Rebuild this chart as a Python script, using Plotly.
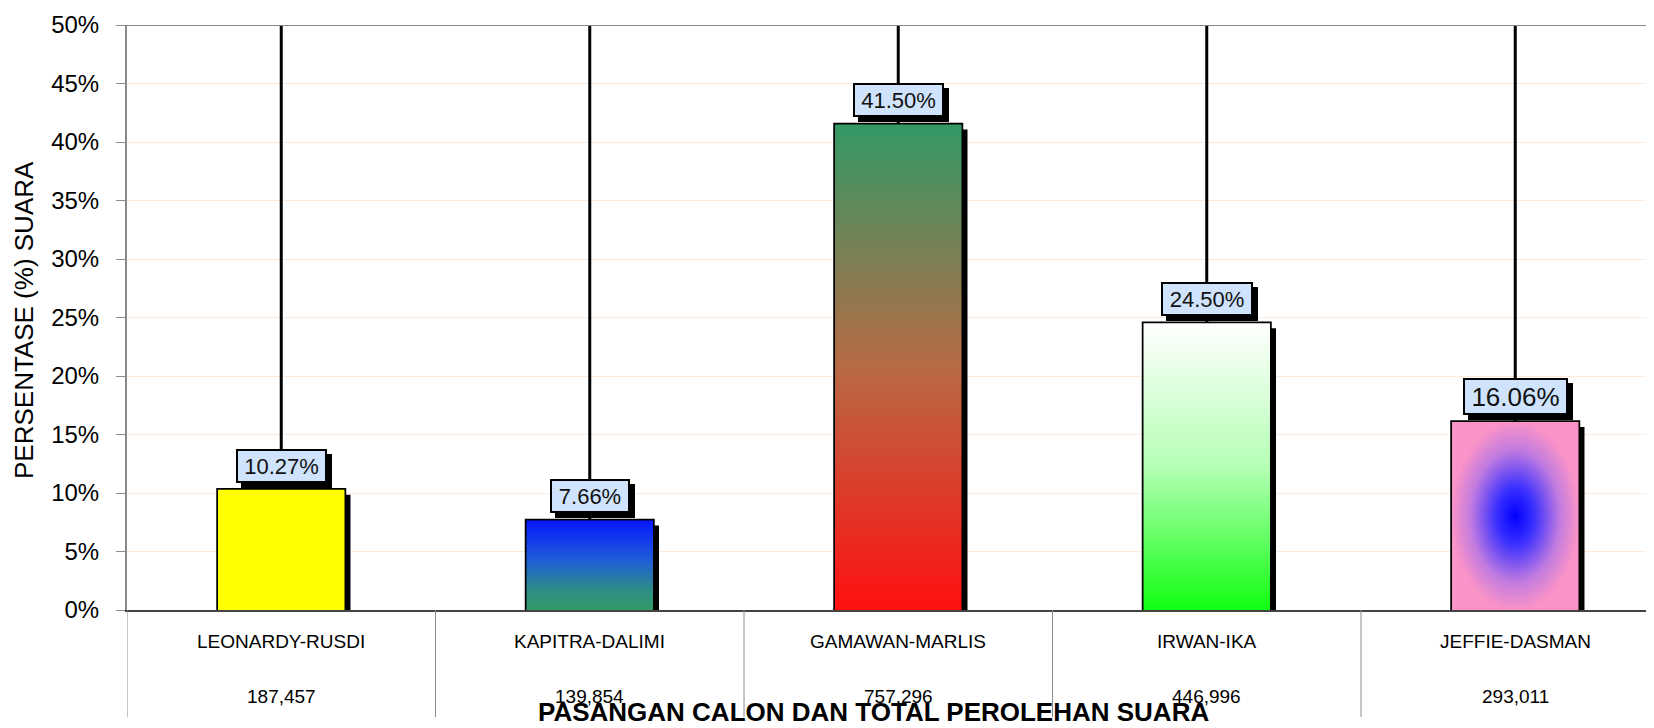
import plotly.graph_objects as go

# ---------------- data ----------------
candidates = ["LEONARDY-RUSDI", "KAPITRA-DALIMI", "GAMAWAN-MARLIS", "IRWAN-IKA", "JEFFIE-DASMAN"]
percent = [10.27, 7.66, 41.50, 24.50, 16.06]
votes = [187457, 139854, 757296, 446996, 293011]
y_ticks = [0, 5, 10, 15, 20, 25, 30, 35, 40, 45, 50]
y_tick_text = ["0%", "5%", "10%", "15%", "20%", "25%", "30%", "35%", "40%", "45%", "50%"]
y_title = "PERSENTASE (%) SUARA"
x_title = "PASANGAN CALON DAN TOTAL PEROLEHAN SUARA"

# ---------------- styles ----------------
PAGE_OFF = 8                     # default body margin of the html page
W_FIG, H_FIG = 1654 - PAGE_OFF, 728 - PAGE_OFF
M_L, M_R, M_T, M_B = 127 - PAGE_OFF, 0, 25 - PAGE_OFF, 118
PLOT_W = W_FIG - M_L - M_R
PLOT_H = H_FIG - M_T - M_B
BASE_Y = M_T + PLOT_H            # baseline in figure pixels
CAT_PX = 308.5
X_MIN = -0.5
X_MAX = X_MIN + PLOT_W / CAT_PX
Y_MAX = 50
BAR_W = 0.41
px_x = 1.0 / CAT_PX            # data units per pixel (x)
px_y = Y_MAX / PLOT_H          # data units per pixel (y)
FONT = "Arial, Liberation Sans, sans-serif"


def fig_y(screen_y):
    """paper y coordinate for a screen pixel row"""
    return (BASE_Y - (screen_y - PAGE_OFF)) / PLOT_H


def fig_x(screen_x):
    return (screen_x - PAGE_OFF - M_L) / PLOT_W


fills = [
    dict(color="#ffff00", grad=None),
    dict(color="#2a70c0", grad=dict(type="vertical",
         colorscale=[[0, "#339966"], [0.2, "#2f8f82"], [0.55, "#1f5fd6"], [1, "#0818ff"]])),
    dict(color="#a08050", grad=dict(type="vertical",
         colorscale=[[0, "#ff1010"], [0.5, "#b86a45"], [1, "#339966"]])),
    dict(color="#a0ffa0", grad=dict(type="vertical",
         colorscale=[[0, "#11ff11"], [0.5, "#b5ffb5"], [1, "#ffffff"]])),
    dict(color="#b070e0", grad=dict(type="radial",
         colorscale=[[0, "#0000ff"], [0.3, "#3a30ff"], [0.7, "#c07ae0"], [1, "#f993c8"]])),
]
label_font = [22, 22, 22, 22, 26]
label_w = [83, 72, 83, 84, 97]
label_h = [26, 26, 26, 26, 29]

idx = list(range(len(candidates)))

fig = go.Figure()

# leader lines from the top of the plot down to each label
lx, ly = [], []
for i, v in zip(idx, percent):
    lx += [i, i, None]
    ly += [v, Y_MAX, None]
fig.add_trace(go.Scatter(x=lx, y=ly, mode="lines", line=dict(color="black", width=3),
                         hoverinfo="skip", showlegend=False))

# bar shadows
fig.add_trace(go.Bar(x=idx, y=[v - 5 * px_y for v in percent], width=BAR_W,
                     offset=-BAR_W / 2 + 6 * px_x, marker=dict(color="black", line=dict(width=0)),
                     hoverinfo="skip", showlegend=False))

# gradient fills of the bars
for i, v, f in zip(idx, percent, fills):
    xs = [i - BAR_W / 2, i + BAR_W / 2, i + BAR_W / 2, i - BAR_W / 2, i - BAR_W / 2]
    ys = [0, 0, v, v, 0]
    kw = dict(x=xs, y=ys, mode="lines", fill="toself", fillcolor=f["color"],
              line=dict(width=0), hoverinfo="skip", showlegend=False)
    if f["grad"] is not None:
        kw["fillgradient"] = f["grad"]
    fig.add_trace(go.Scatter(**kw))

# bar outlines
fig.add_trace(go.Bar(x=idx, y=percent, width=BAR_W,
                     marker=dict(color="rgba(0,0,0,0)", line=dict(color="black", width=3.5)),
                     hoverinfo="skip", showlegend=False))

annotations = []
# value labels with shadows
for i, v, fs, w, h in zip(idx, percent, label_font, label_w, label_h):
    annotations.append(dict(x=i, y=v, xref="x", yref="y", text="", showarrow=False,
                            yanchor="bottom", xanchor="center", yshift=2, xshift=5,
                            width=w, height=h, bgcolor="black", bordercolor="black",
                            borderwidth=2, borderpad=2))
    annotations.append(dict(x=i, y=v, xref="x", yref="y", text=f"{v:.2f}%", showarrow=False,
                            yanchor="bottom", xanchor="center", yshift=7,
                            width=w, height=h, bgcolor="#cfe4fc", bordercolor="black",
                            borderwidth=2, borderpad=2,
                            font=dict(family=FONT, size=fs, color="#111111")))

# table below the axis
for i, name, n in zip(idx, candidates, votes):
    annotations.append(dict(x=i, y=fig_y(641), xref="x", yref="paper",
                            text=name, showarrow=False, yanchor="middle",
                            font=dict(family=FONT, size=19, color="black")))
    annotations.append(dict(x=i, y=fig_y(696), xref="x", yref="paper",
                            text=f"{n:,}", showarrow=False, yanchor="middle",
                            font=dict(family=FONT, size=19, color="black")))

# axis titles
annotations.append(dict(x=fig_x(24), y=fig_y(320), xref="paper",
                        yref="paper", text=y_title, textangle=-90, showarrow=False,
                        xanchor="center", yanchor="middle",
                        font=dict(family=FONT, size=26, color="black")))
annotations.append(dict(x=fig_x(873), y=fig_y(712), xref="paper",
                        yref="paper", text=f"<b>{x_title}</b>", showarrow=False,
                        xanchor="center", yanchor="middle",
                        font=dict(family=FONT, size=26, color="black")))

shapes = []
# table separators
for i in idx:
    shapes.append(dict(type="line", xref="x", yref="paper", x0=i - 0.5, x1=i - 0.5,
                       y0=0, y1=fig_y(717),
                       line=dict(color="#8c8c8c", width=1), layer="above"))
# top border
shapes.append(dict(type="line", xref="paper", yref="y", x0=0, x1=1, y0=Y_MAX, y1=Y_MAX,
                   line=dict(color="#8a8a8a", width=2), layer="above"))

fig.update_layout(
    width=W_FIG, height=H_FIG,
    margin=dict(l=M_L, r=M_R, t=M_T, b=M_B, pad=0),
    paper_bgcolor="white", plot_bgcolor="white",
    barmode="overlay", showlegend=False,
    annotations=annotations, shapes=shapes,
    xaxis=dict(range=[X_MIN, X_MAX], showticklabels=False, ticks="", showgrid=False,
               zeroline=False, showline=True, linecolor="#444444", linewidth=2),
    yaxis=dict(range=[0, Y_MAX], tickmode="array", tickvals=y_ticks, ticktext=y_tick_text,
               tickfont=dict(family=FONT, size=24, color="black"),
               ticks="outside", ticklen=9, tickcolor="#8a8a8a", tickwidth=1,
               ticklabelstandoff=12,
               showgrid=True, gridcolor="#fdeadb", gridwidth=1,
               zeroline=False, showline=True, linecolor="#8a8a8a", linewidth=2),
)

fig.write_html("out.html")
